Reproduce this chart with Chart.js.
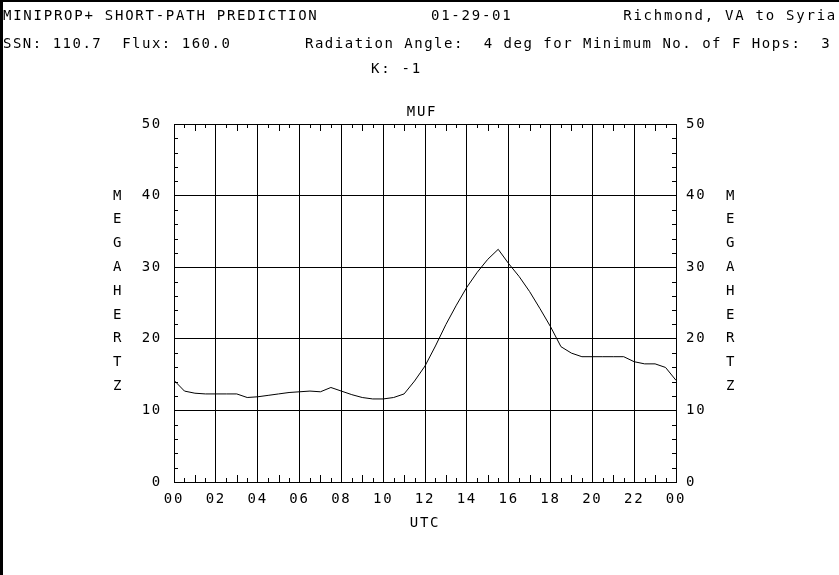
<!DOCTYPE html>
<html>
<head>
<meta charset="utf-8">
<script src="https://cdn.jsdelivr.net/npm/chart.js@4"></script>
<style>
  html, body { margin: 0; padding: 0; background: #fff; }
</style>
</head>
<body>
<canvas id="chart" width="839" height="575"></canvas>
<script>
// MUF by UTC hour, every half hour
const hours = [0, 0.5, 1, 1.5, 2, 2.5, 3, 3.5, 4, 4.5, 5, 5.5, 6, 6.5, 7, 7.5, 8, 8.5, 9, 9.5,
  10, 10.5, 11, 11.5, 12, 12.5, 13, 13.5, 14, 14.5, 15, 15.5, 16, 16.5, 17, 17.5, 18, 18.5, 19, 19.5,
  20, 20.5, 21, 21.5, 22, 22.5, 23, 23.5, 24];
const muf = [14.2, 12.7, 12.4, 12.3, 12.3, 12.3, 12.3, 11.8, 11.9, 12.1, 12.3, 12.5, 12.6, 12.7, 12.6, 13.2, 12.7, 12.2, 11.8, 11.6,
  11.6, 11.8, 12.3, 14.1, 16.2, 19.0, 22.0, 24.7, 27.2, 29.3, 31.1, 32.5, 30.5, 28.7, 26.6, 24.2, 21.7, 18.9, 18.0, 17.5,
  17.5, 17.5, 17.5, 17.5, 16.8, 16.5, 16.5, 16.0, 14.2];

const headerLine1 = ['MINIPROP+ SHORT-PATH PREDICTION', '01-29-01', 'Richmond, VA to Syria'];
const headerLine2 = ['SSN: 110.7  Flux: 160.0', 'Radiation Angle:  4 deg for Minimum No. of F Hops:  3'];
const headerLine3 = 'K: -1';
const yAxisWord = 'MEGAHERTZ';

const MONO = "'DejaVu Sans Mono', monospace";
const FONT = {family: MONO, size: 14};
const SPACING = '1.75px';

const printout = {
  id: 'printout',
  beforeDraw(chart) {
    const {ctx} = chart;
    ctx.fillStyle = '#fff';
    ctx.fillRect(0, 0, chart.width, chart.height);
    ctx.letterSpacing = SPACING;
  },
  afterDraw(chart) {
    const {ctx, chartArea: a} = chart;
    const xs = chart.scales.x, ys = chart.scales.y;
    ctx.save();
    ctx.strokeStyle = '#000';
    ctx.lineWidth = 1;
    ctx.beginPath();
    // minor ticks pointing inward
    for (let h = 0.5; h < 24; h += 0.5) {
      if (h % 2 === 0) continue;
      const len = h % 1 === 0 ? 7 : 4;
      const x = Math.round(xs.getPixelForValue(h)) + 0.5;
      ctx.moveTo(x, a.bottom); ctx.lineTo(x, a.bottom - len);
      ctx.moveTo(x, a.top); ctx.lineTo(x, a.top + len);
    }
    for (let v = 2; v < 50; v += 2) {
      if (v % 10 === 0) continue;
      const y = Math.round(ys.getPixelForValue(v)) + 0.5;
      ctx.moveTo(a.left, y); ctx.lineTo(a.left + 4, y);
      ctx.moveTo(a.right, y); ctx.lineTo(a.right - 4, y);
    }
    ctx.stroke();

    ctx.fillStyle = '#000';
    ctx.font = `14px ${MONO}`;
    ctx.letterSpacing = SPACING;
    ctx.textBaseline = 'alphabetic';
    ctx.textAlign = 'left';
    ctx.fillText(headerLine1[0], 3, 20);
    ctx.fillText(headerLine1[1], 431, 20);
    ctx.textAlign = 'right';
    ctx.fillText(headerLine1[2], 837, 20);
    ctx.textAlign = 'left';
    ctx.letterSpacing = '1.5px';
    ctx.fillText(headerLine2[0], 3, 48);
    ctx.fillText(headerLine2[1], 305, 48);
    ctx.letterSpacing = SPACING;
    ctx.fillText(headerLine3, 371, 73);

    ctx.textAlign = 'center';
    ctx.fillText('MUF', (a.left + a.right) / 2 - 3, 116);

    ctx.textBaseline = 'middle';
    [...yAxisWord].forEach((ch, i) => {
      const y = 196 + i * 23.8;
      ctx.fillText(ch, 118, y);
      ctx.fillText(ch, 731, y);
    });

    // page edge of the printout
    ctx.fillRect(0, 0, chart.width, 2);
    ctx.fillRect(0, 0, 3, chart.height);
    ctx.restore();
  }
};

new Chart(document.getElementById('chart'), {
  type: 'line',
  data: {
    datasets: [{
      label: 'MUF',
      data: hours.map((h, i) => ({x: h, y: muf[i]})),
      borderColor: '#000',
      borderWidth: 1,
      pointRadius: 0,
      tension: 0,
      fill: false
    }]
  },
  options: {
    responsive: false,
    animation: false,
    devicePixelRatio: 1,
    layout: {padding: {top: 124, bottom: 43, left: 0, right: 0}},
    scales: {
      x: {
        type: 'linear',
        position: 'bottom',
        min: 0,
        max: 24,
        afterFit: s => { s.height = 50; },
        ticks: {
          stepSize: 2,
          autoSkip: false,
          maxRotation: 0,
          padding: 9,
          color: '#000',
          font: FONT,
          callback: v => String(v % 24).padStart(2, '0')
        },
        grid: {color: '#000', lineWidth: 1, drawTicks: false},
        border: {color: '#000', width: 1},
        title: {display: true, text: 'UTC', color: '#000', font: FONT, padding: 0}
      },
      y: {
        position: 'left',
        min: 0,
        max: 50,
        afterFit: s => { s.width = 174; },
        ticks: {stepSize: 10, padding: 12, color: '#000', font: FONT},
        grid: {color: '#000', lineWidth: 1, drawTicks: false},
        border: {color: '#000', width: 1}
      },
      y2: {
        position: 'right',
        min: 0,
        max: 50,
        afterFit: s => { s.width = 163; },
        ticks: {stepSize: 10, padding: 10, color: '#000', font: FONT},
        grid: {drawOnChartArea: false, drawTicks: false},
        border: {color: '#000', width: 1}
      }
    },
    plugins: {
      legend: {display: false},
      tooltip: {enabled: false},
      title: {display: false}
    }
  },
  plugins: [printout]
});
</script>
</body>
</html>
